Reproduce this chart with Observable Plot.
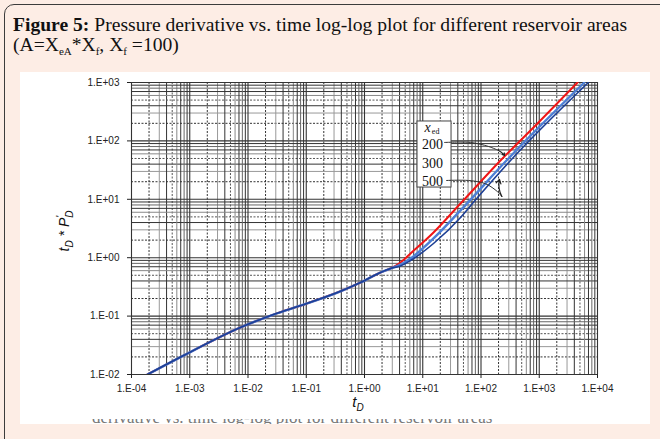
<!DOCTYPE html>
<html><head><meta charset="utf-8">
<script src="https://cdn.jsdelivr.net/npm/d3@7"></script>
<script src="https://cdn.jsdelivr.net/npm/@observablehq/plot@0.6"></script>
<style>
html,body{margin:0;padding:0;}
body{width:660px;height:439px;background:#fdede5;position:relative;overflow:hidden;font-family:"Liberation Serif",serif;}
#border{position:absolute;left:4px;top:4px;width:720px;height:520px;border:1.5px solid #3c3c3c;border-radius:10px;}
#title{position:absolute;left:13px;top:15px;font-size:19.6px;line-height:20px;color:#111;white-space:nowrap;}
#title sub{font-size:11px;vertical-align:-4px;line-height:0;}
#panel{position:absolute;left:20px;top:72px;width:630px;height:352px;background:#fff;}
#below{position:absolute;left:0;top:419px;width:660px;height:5px;overflow:hidden;}
#below span{position:absolute;left:92px;top:-3.5px;font-size:17px;line-height:4px;color:#777;white-space:nowrap;}
#chart{position:absolute;left:20px;top:72px;}
</style></head>
<body>
<div id="border"></div>
<div id="title"><b>Figure 5:</b> Pressure derivative vs. time log-log plot for different reservoir areas<br>(A=X<sub>eA</sub>*X<sub>f</sub>, X<sub>f</sub> =100)</div>
<div id="panel"></div>
<div id="below"><span>derivative vs. time log-log plot for different reservoir areas</span></div>
<div id="chart"></div>
<script>
// Shared early-time curve (tD, tD*PD')
const tD_common = [1.88e-4, 7.8e-4, 7.4e-3, 0.0274, 0.100, 0.387, 0.853, 1.88, 2.79];
const dP_common = [0.0100, 0.0211, 0.0638, 0.106, 0.163, 0.266, 0.376, 0.558, 0.653];
// Late-time branches for each xed
const tD_200 = [4.15, 6.17, 15.3, 44.5, 216, 970, 4540];
const dP_200 = [0.828, 1.18, 2.70, 8.47, 46.1, 207, 1000];
const tD_300 = [4.15, 6.17, 15.3, 44.5, 274, 5940];
const dP_300 = [0.759, 0.968, 2.14, 6.46, 46.1, 1000];
const tD_500 = [4.15, 6.17, 15.3, 44.5, 74.3, 321, 6970];
const dP_500 = [0.724, 0.895, 1.75, 4.88, 8.9, 46.1, 1000];
const xedLabels = ["200", "300", "500"];
const xTicks = [1e-4, 1e-3, 1e-2, 1e-1, 1e0, 1e1, 1e2, 1e3, 1e4];
const yTicks = [1e-2, 1e-1, 1e0, 1e1, 1e2, 1e3];

const series = [
  {name: "200", tD: tD_200, dP: dP_200, color: "#f01515", w: 2},
  {name: "300", tD: tD_300, dP: dP_300, color: "#4d7fd6", w: 2.4},
  {name: "500", tD: tD_500, dP: dP_500, color: "#1d3f95", w: 1.6}
];
const rows = [];
for (const s of series) {
  tD_common.forEach((t, i) => rows.push({xed: s.name, t, d: dP_common[i]}));
  s.tD.forEach((t, i) => rows.push({xed: s.name, t, d: s.dP[i]}));
}

const fmt = d => { const e = Math.round(Math.log10(d)); return "1.E" + (e < 0 ? "-" : "+") + String(Math.abs(e)).padStart(2, "0"); };

// minor gridlines
const minorX = [], minorY = [];
for (let k = -4; k < 4; k++) for (let m = 2; m <= 9; m++) minorX.push({v: m * 10 ** k, m});
for (let k = -2; k < 3; k++) for (let m = 2; m <= 9; m++) minorY.push({v: m * 10 ** k, m});
const gstyle = m => ({2: ["#333", "2,1.5"], 3: ["#999", null], 4: ["#333", null], 5: ["#555", "2,1.5"], 6: ["#888", null], 7: ["#333", null], 8: ["#666", null], 9: ["#333", null]})[m];

const gridMarks = [];
for (let m = 2; m <= 9; m++) {
  const [c, dash] = gstyle(m);
  gridMarks.push(Plot.ruleX(minorX.filter(o => o.m === m), {x: "v", stroke: c, strokeWidth: 1, strokeDasharray: dash}));
  gridMarks.push(Plot.ruleY(minorY.filter(o => o.m === m), {y: "v", stroke: c, strokeWidth: 1, strokeDasharray: dash}));
}

// legend/annotation (data coordinates)
const legendBox = [{x1: 8.13, x2: 31.2, y1: 15.9, y2: 215}];
const legendText = [{x: 14.7, y: 86.7, s: xedLabels[0]}, {x: 14.7, y: 41.0, s: xedLabels[1]}, {x: 14.7, y: 20.2, s: xedLabels[2]}];
const hook200 = [[23.6, 94], [66.1, 94], [135, 80.2], [200, 68.5]];
const head200 = [{x1: 200, y1: 68.5, x2: 253, y2: 56.2}];
const hook500 = [[25.6, 21.0], [61, 21.0], [119, 18.5], [192, 13.5], [228, 11.2]];
const head500 = [{x1: 228, y1: 11.2, x2: 207, y2: 22.0}];

const chart = Plot.plot({
  width: 630, height: 352,
  marginLeft: 111, marginRight: 53, marginTop: 10, marginBottom: 50,
  x: {type: "log", domain: [1e-4, 1e4]},
  y: {type: "log", domain: [1e-2, 1e3]},
  style: {background: "transparent", fontFamily: "Liberation Sans, Arial, sans-serif", fontSize: "10px", color: "#222"},
  marks: [
    ...gridMarks,
    Plot.ruleX(xTicks, {stroke: "#333", strokeWidth: 1.1}),
    Plot.ruleY(yTicks, {stroke: "#333", strokeWidth: 1.1}),
    Plot.frame({stroke: "#333"}),
    Plot.axisX({ticks: xTicks, tickFormat: fmt, tickSize: 4, tickPadding: 6, label: null, fontSize: 10, style: {letterSpacing: "1px"}}),
    Plot.axisY({ticks: yTicks, tickFormat: fmt, tickSize: 4, tickPadding: 8, label: null, fontSize: 10, style: {letterSpacing: "1px"}}),
    Plot.line(rows.filter(r => r.xed === "200"), {x: "t", y: "d", stroke: series[0].color, strokeWidth: series[0].w, curve: "monotone-x", clip: true}),
    Plot.line(rows.filter(r => r.xed === "300"), {x: "t", y: "d", stroke: series[1].color, strokeWidth: series[1].w, curve: "monotone-x", clip: true}),
    Plot.line(rows.filter(r => r.xed === "500"), {x: "t", y: "d", stroke: series[2].color, strokeWidth: series[2].w, curve: "monotone-x", clip: true}),
    Plot.rect(legendBox, {x1: "x1", x2: "x2", y1: "y1", y2: "y2", fill: "white", stroke: "#444", strokeWidth: 1}),
    Plot.text(legendText, {x: "x", y: "y", text: "s", fontFamily: "Liberation Serif, serif", fontSize: 14, fill: "#111"}),
    Plot.text([{x: 14.2, y: 169}], {x: "x", y: "y", text: () => "x", fontFamily: "Liberation Serif, serif", fontStyle: "italic", fontSize: 14, fill: "#111", dx: -4}),
    Plot.text([{x: 14.2, y: 169}], {x: "x", y: "y", text: () => "ed", fontFamily: "Liberation Serif, serif", fontSize: 8, fill: "#111", dx: 4, dy: 4}),
    Plot.line(hook200, {x: d => d[0], y: d => d[1], stroke: "#333", strokeWidth: 1, curve: "catmull-rom"}),
    Plot.arrow(head200, {x1: "x1", y1: "y1", x2: "x2", y2: "y2", stroke: "#222", strokeWidth: 1.2, headLength: 6, bend: 15}),
    Plot.line(hook500, {x: d => d[0], y: d => d[1], stroke: "#333", strokeWidth: 1, curve: "catmull-rom"}),
    Plot.arrow(head500, {x1: "x1", y1: "y1", x2: "x2", y2: "y2", stroke: "#222", strokeWidth: 1.2, headLength: 6, bend: 20})
  ]
});
document.getElementById("chart").appendChild(chart);

// axis titles with subscripts
const svg = d3.select(chart);
const yl = svg.append("text")
  .attr("transform", "translate(49,159) rotate(-90)")
  .attr("text-anchor", "middle")
  .attr("font-family", "Liberation Sans, Arial, sans-serif")
  .attr("font-style", "italic").attr("font-size", 14).attr("fill", "#111");
yl.append("tspan").text("t");
yl.append("tspan").attr("font-size", 10).attr("dy", 4).text("D");
yl.append("tspan").attr("dy", -4).text(" * P");
yl.append("tspan").attr("font-size", 10).attr("dy", -5).text("'");
yl.append("tspan").attr("font-size", 10).attr("dx", -2).attr("dy", 9).text("D");

const xl = svg.append("text")
  .attr("transform", "translate(338,335)")
  .attr("text-anchor", "middle")
  .attr("font-family", "Liberation Sans, Arial, sans-serif")
  .attr("font-style", "italic").attr("font-size", 15).attr("fill", "#111");
xl.append("tspan").text("t");
xl.append("tspan").attr("font-size", 10).attr("dy", 4).text("D");
</script>
</body></html>
